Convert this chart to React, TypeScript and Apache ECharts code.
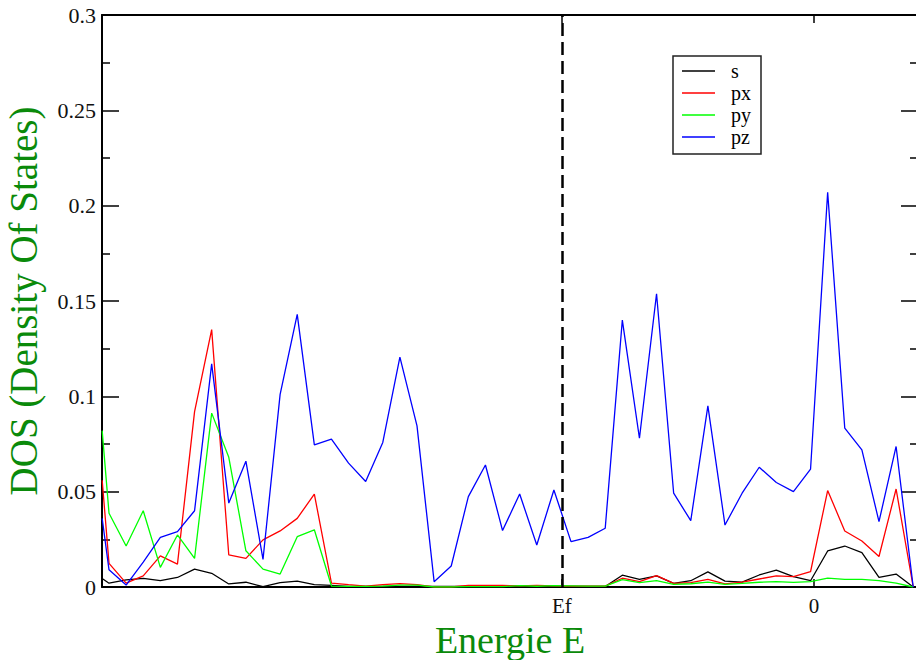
import React, { useEffect, useRef } from "react";
import * as echarts from "echarts";

// Energy grid (eV, 0 = reference "0", Ef marked by dashed line)
const energies = [
  -4.16, -4.12, -4.02, -3.92, -3.82, -3.72, -3.62, -3.52, -3.42, -3.32, -3.22,
  -3.12, -3.02, -2.92, -2.82, -2.72, -2.62, -2.52, -2.42, -2.32, -2.22, -2.12,
  -2.02, -1.92, -1.82, -1.72, -1.62, -1.52, -1.42, -1.32, -1.22, -1.12, -1.02,
  -0.92, -0.82, -0.72, -0.62, -0.52, -0.42, -0.32, -0.22, -0.12, -0.02, 0.08,
  0.18, 0.28, 0.38, 0.48, 0.58,
];

const EF = -1.473;
const X_MIN = -4.161;
const X_MAX = 0.608;

const sValues = [
  0.0045, 0.002, 0.0037, 0.0045, 0.0033, 0.005, 0.0094, 0.0072, 0.0016, 0.0025,
  0.0002, 0.0023, 0.0031, 0.0012, 0.0009, 0.0003, 0.0003, 0.0003, 0.0003, 0.0003,
  0.0003, 0.0003, 0.0003, 0.0003, 0.0003, 0.0003, 0.0003, 0.0003, 0.0003, 0.0003,
  0.0003, 0.0062, 0.004, 0.0058, 0.0019, 0.0033, 0.0079, 0.0031, 0.0026, 0.0063,
  0.0089, 0.0054, 0.0033, 0.0189, 0.0215, 0.018, 0.0051, 0.0068, 0.0,
];

const pxValues = [
  0.056, 0.0124, 0.002, 0.0058, 0.0163, 0.012, 0.092, 0.135, 0.0168, 0.015,
  0.0247, 0.0294, 0.036, 0.0487, 0.002, 0.0012, 0.0005, 0.0012, 0.0018, 0.0012,
  0.0, 0.0, 0.0008, 0.0008, 0.0008, 0.0006, 0.0008, 0.0006, 0.0005, 0.0005,
  0.0005, 0.0046, 0.0028, 0.006, 0.0019, 0.0023, 0.004, 0.0016, 0.0026, 0.0042,
  0.0058, 0.0054, 0.008, 0.0506, 0.0294, 0.0241, 0.016, 0.0514, 0.0,
];

const pyValues = [
  0.082, 0.0387, 0.0215, 0.04, 0.0103, 0.0273, 0.015, 0.0912, 0.068, 0.019,
  0.0094, 0.0068, 0.0264, 0.03, 0.0005, 0.0003, 0.0003, 0.0005, 0.001, 0.001,
  0.0, 0.0, 0.0002, 0.0002, 0.0002, 0.0007, 0.0004, 0.0007, 0.0006, 0.0005,
  0.0005, 0.0039, 0.0023, 0.0033, 0.0014, 0.0017, 0.0026, 0.0014, 0.0019, 0.0025,
  0.0028, 0.0024, 0.0028, 0.0047, 0.004, 0.004, 0.0033, 0.002, 0.0,
];

const pzValues = [
  0.036, 0.009, 0.001, 0.013, 0.026, 0.029, 0.04, 0.117, 0.044, 0.066,
  0.0145, 0.101, 0.143, 0.0745, 0.0775, 0.065, 0.0553, 0.0758, 0.1206, 0.0845,
  0.0028, 0.011, 0.0474, 0.064, 0.0296, 0.0488, 0.022, 0.0509, 0.0238, 0.026,
  0.0308, 0.14, 0.078, 0.1538, 0.0492, 0.0348, 0.095, 0.0325, 0.0492, 0.0628,
  0.0548, 0.05, 0.0618, 0.207, 0.0833, 0.0719, 0.0343, 0.0737, 0.0,
];

const seriesNames = ["s", "px", "py", "pz"];
const seriesColors = ["#000000", "#ff0000", "#00ff00", "#0000ff"];
const xTickValues = [EF, 0];
const xTickLabels = ["Ef", "0"];

const SERIF = '"Liberation Serif", "Times New Roman", serif';
const TITLE_GREEN = "#0a8a0a";

export default function App() {
  const ref = useRef<HTMLDivElement>(null);

  useEffect(() => {
    if (!ref.current) return;
    const chart = echarts.init(ref.current, null, { renderer: "svg" });
    const allValues = [sValues, pxValues, pyValues, pzValues];

    const yAxisBase = {
      type: "value" as const,
      min: 0,
      max: 0.3,
      interval: 0.05,
      splitLine: { show: false },
      axisLine: { show: true, onZero: false, lineStyle: { color: "#000", width: 2 } },
      axisTick: { show: true, inside: true, length: 17, lineStyle: { color: "#000", width: 1.5 } },
      minorTick: { show: true, splitNumber: 2, length: 8, lineStyle: { color: "#000", width: 1.5 } },
    };

    const xAxisBase = {
      type: "value" as const,
      min: X_MIN,
      max: X_MAX,
      splitLine: { show: false },
      axisLine: { show: true, onZero: false, lineStyle: { color: "#000", width: 2 } },
      axisTick: {
        show: true,
        inside: true,
        length: 8,
        customValues: xTickValues,
        lineStyle: { color: "#000", width: 1.5 },
      },
    };

    chart.setOption({
      animation: false,
      backgroundColor: "#ffffff",
      grid: {
        left: 102,
        top: 15,
        right: -2,
        bottom: 73,
        containLabel: false,
        outerBoundsMode: "none",
      },
      legend: {
        orient: "vertical",
        left: 673,
        top: 56,
        data: seriesNames,
        icon: "rect",
        itemWidth: 33,
        itemHeight: 1.4,
        itemGap: 2,
        padding: [5, 10, 7, 9],
        borderColor: "#222",
        borderWidth: 1.5,
        backgroundColor: "#fff",
        textStyle: {
          fontFamily: SERIF,
          fontSize: 20,
          color: "#000",
          padding: [0, 0, 0, 11],
        },
      },
      xAxis: [
        {
          ...xAxisBase,
          position: "bottom",
          name: "Energie E",
          nameLocation: "middle",
          nameGap: 24,
          nameTextStyle: { fontFamily: SERIF, fontSize: 38, lineHeight: 38, color: TITLE_GREEN },
          axisLabel: {
            show: true,
            customValues: xTickValues,
            margin: 8,
            fontFamily: SERIF,
            fontSize: 21,
            color: "#111",
            formatter: (v: number) => {
              const idx = xTickValues.findIndex((t) => Math.abs(t - v) < 1e-6);
              return idx >= 0 ? xTickLabels[idx] : "";
            },
          },
        },
        {
          ...xAxisBase,
          position: "top",
          axisLabel: { show: false },
        },
      ],
      yAxis: [
        {
          ...yAxisBase,
          position: "left",
          name: "DOS (Density Of States)",
          nameLocation: "middle",
          nameRotate: 90,
          nameGap: 59,
          nameTextStyle: { fontFamily: SERIF, fontSize: 39, color: TITLE_GREEN },
          axisLabel: {
            show: true,
            margin: 6,
            fontFamily: SERIF,
            fontSize: 22,
            color: "#111",
            formatter: (v: number) => String(+v.toFixed(2)),
          },
        },
        {
          ...yAxisBase,
          position: "right",
          axisLabel: { show: false },
        },
      ],
      series: seriesNames.map((name, i) => ({
        name,
        type: "line",
        xAxisIndex: 0,
        yAxisIndex: 0,
        symbol: "none",
        showSymbol: false,
        clip: true,
        color: seriesColors[i],
        lineStyle: { color: seriesColors[i], width: 1.3 },
        data: energies.map((e, j) => [e, allValues[i][j]]),
        ...(i === 0
          ? {
              markLine: {
                silent: true,
                symbol: ["none", "none"],
                label: { show: false },
                lineStyle: { color: "#000", type: [13, 6], width: 2.5 },
                data: [{ xAxis: EF }],
              },
            }
          : {}),
      })),
    });

    return () => chart.dispose();
  }, []);

  return (
    <div
      ref={ref}
      style={{ position: "fixed", left: 0, top: 0, width: 916, height: 660, background: "#fff" }}
    />
  );
}
